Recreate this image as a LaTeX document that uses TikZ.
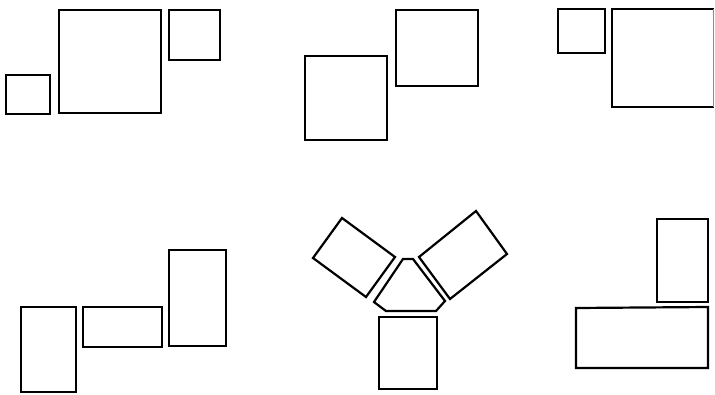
\documentclass[tikz,border=0pt]{standalone}
\begin{document}
\begin{tikzpicture}[x=1pt,y=-1pt,box/.style={draw=black,line width=2.2pt,line join=miter}]
\useasboundingbox (0,0) rectangle (715,394);
% group 1
\draw[box] (6,75) rectangle (50,114);
\draw[box] (59,10) rectangle (161,113);
\draw[box] (169,10) rectangle (220,60);
% group 2
\draw[box] (305,56) rectangle (387,140);
\draw[box] (396,10) rectangle (478,86);
% group 3
\draw[box] (558,9) rectangle (605,53);
\draw[box] (713.5,9) -- (612,9) -- (612,107) -- (713.5,107);
\draw[draw=black!45,line width=1pt] (713.5,9) -- (713.5,107);
% group 4
\draw[box] (21,307) rectangle (76,392);
\draw[box] (83,307) rectangle (162,347);
\draw[box] (169,250) rectangle (226,346);
% group 5
\draw[box] (313,258) -- (342,218) -- (395,257) -- (366,297) -- cycle;
\draw[box] (419,257) -- (476,211) -- (507,254) -- (450,299) -- cycle;
\draw[box] (403,259) -- (413,259) -- (445,301) -- (436,311) -- (386,311) -- (374,302) -- cycle;
\draw[box] (379,317) rectangle (437,389);
% group 6
\draw[box] (657,219) rectangle (708,302);
\draw[box] (576,308) -- (708,307) -- (708,368) -- (576,368) -- cycle;
\end{tikzpicture}
\end{document}
